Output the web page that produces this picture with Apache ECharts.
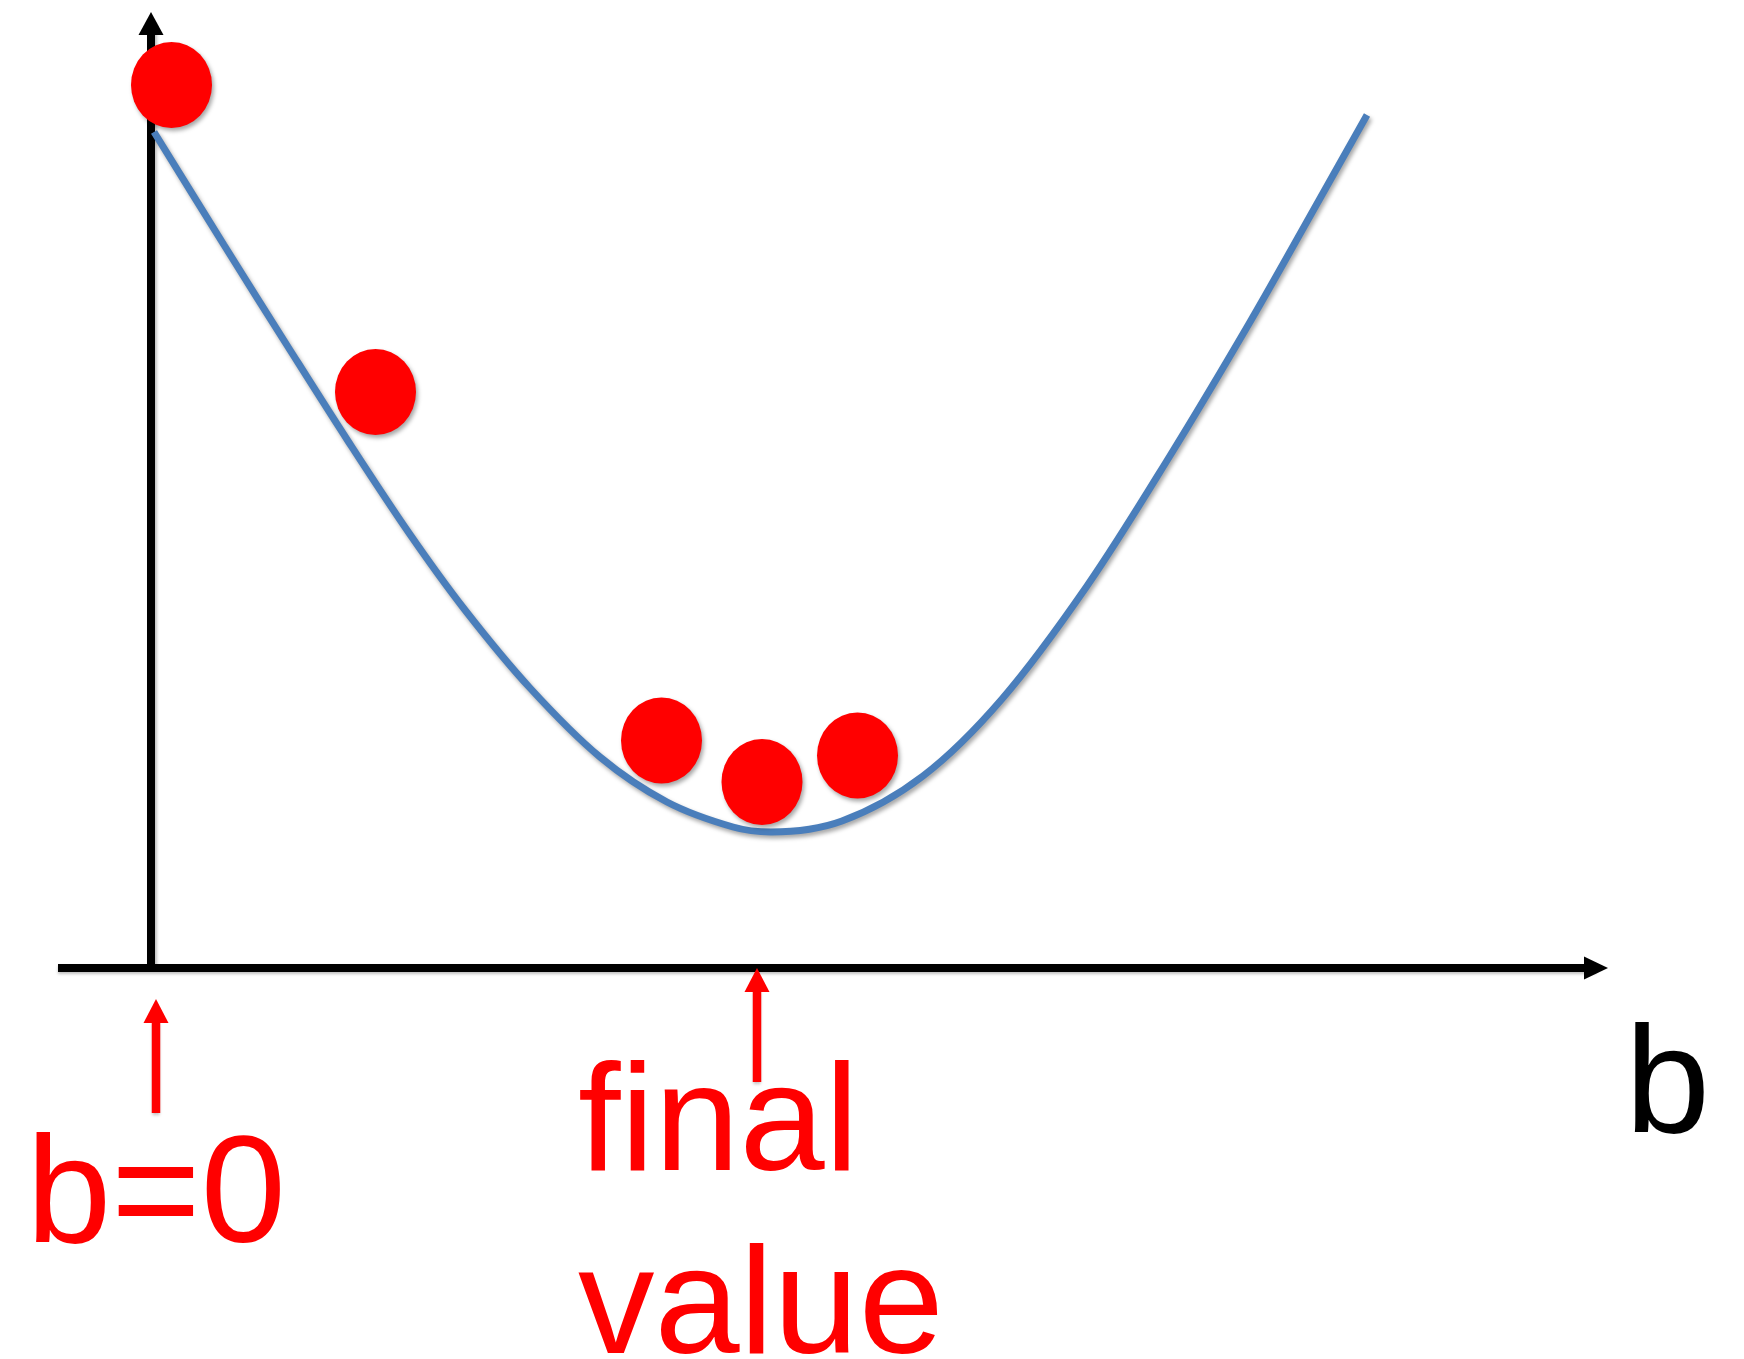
<!DOCTYPE html>
<html>
<head>
<meta charset="utf-8">
<script src="https://cdn.jsdelivr.net/npm/echarts@6/dist/echarts.min.js"></script>
<style>
html, body { margin: 0; padding: 0; background: #ffffff; }
#main { width: 1744px; height: 1359px; }
</style>
</head>
<body>
<div id="main"></div>
<script>
// ---- data (b on the horizontal axis, cost on the vertical axis) ----
const curveB    = [0.3, 7.3, 13.9, 19.7, 25.8, 31.4, 37.9, 44.9, 51.6, 58.2, 62.0, 69.1, 77.2, 85.1, 93.6, 101.7, 109.9, 116.7, 121.6];
const curveCost = [83.6, 72.3, 61.8, 52.7, 43.5, 35.8, 28.0, 21.1, 16.6, 14.1, 13.6, 14.7, 19.2, 26.9, 38.2, 50.9, 64.6, 76.6, 85.3];

const stepB    = [2.05, 22.45, 51.05, 61.1, 70.65];
const stepCost = [88.3, 57.6, 22.75, 18.6, 21.25];

const markerB      = [0.5, 60.6];
const markerTail   = [-14.5, -11.4];
const markerTip    = [-3.1, 0];
const markerLabels = ['b=0', 'final\nvalue'];

const xAxisName = 'b';

// ---- layout / style constants ----
const FONT = '"Liberation Sans", Arial, Helvetica, sans-serif';
const RED = '#ff0000';
const BLUE = '#4a7ebb';
const labelLayout = [
  { dx: 0,    dy: -4.5,  align: 'center' },
  { dx: -179, dy: -45.5, align: 'left' }
];

const chart = echarts.init(document.getElementById('main'), null, { renderer: 'canvas' });

const curveData = curveB.map((b, i) => [b, curveCost[i]]);
const stepData = stepB.map((b, i) => [b, stepCost[i]]);
const markerData = markerB.map((b, i) => [b, markerTail[i], markerTip[i]]);

const shadow = { shadowColor: 'rgba(0,0,0,0.35)', shadowBlur: 4, shadowOffsetX: 2, shadowOffsetY: 3 };

chart.setOption({
  animation: false,
  backgroundColor: '#ffffff',
  grid: { left: 58, right: 148, top: 23.5, bottom: 391, containLabel: false },
  xAxis: {
    type: 'value',
    min: -9.3,
    max: 144.5,
    name: xAxisName,
    nameLocation: 'end',
    nameGap: 29,
    nameTextStyle: {
      color: '#000000',
      fontSize: 153,
      fontFamily: FONT,
      align: 'left',
      verticalAlign: 'top',
      lineHeight: 153,
      padding: [45, 0, 0, 0]
    },
    axisLine: {
      show: true,
      onZero: true,
      symbol: ['none', 'triangle'],
      symbolSize: [23, 24],
      lineStyle: { color: '#000000', width: 8, cap: 'butt', shadowColor: 'rgba(0,0,0,0.25)', shadowBlur: 3, shadowOffsetY: 2 }
    },
    axisTick: { show: false },
    axisLabel: { show: false },
    splitLine: { show: false }
  },
  yAxis: {
    type: 'value',
    min: 0,
    max: 94.45,
    axisLine: {
      show: true,
      onZero: true,
      symbol: ['none', 'triangle'],
      symbolSize: [25, 23],
      lineStyle: { color: '#000000', width: 8, cap: 'butt', shadowColor: 'rgba(0,0,0,0.25)', shadowBlur: 3, shadowOffsetX: 2 }
    },
    axisTick: { show: false },
    axisLabel: { show: false },
    splitLine: { show: false }
  },
  series: [
    {
      type: 'line',
      data: curveData,
      smooth: 0.33,
      showSymbol: false,
      symbol: 'none',
      clip: false,
      lineStyle: Object.assign({ color: BLUE, width: 7, cap: 'butt' }, shadow),
      z: 3
    },
    {
      type: 'scatter',
      data: stepData,
      symbol: 'circle',
      symbolSize: [81, 86],
      clip: false,
      itemStyle: Object.assign({ color: RED, opacity: 1 }, shadow),
      z: 4
    },
    {
      type: 'custom',
      data: markerData,
      clip: false,
      z: 5,
      renderItem: function (params, api) {
        const b = api.value(0);
        const tail = api.coord([b, api.value(1)]);
        const tip = api.coord([b, api.value(2)]);
        const headLen = 24, headW = 25, shaftW = 8.5;
        const lay = labelLayout[params.dataIndex];
        return {
          type: 'group',
          children: [
            {
              type: 'rect',
              shape: { x: tip[0] - shaftW / 2, y: tip[1] + headLen - 1, width: shaftW, height: tail[1] - tip[1] - headLen + 1 },
              style: { fill: RED, shadowColor: 'rgba(0,0,0,0.25)', shadowBlur: 3, shadowOffsetY: 2 }
            },
            {
              type: 'polygon',
              shape: { points: [[tip[0], tip[1]], [tip[0] - headW / 2, tip[1] + headLen], [tip[0] + headW / 2, tip[1] + headLen]] },
              style: { fill: RED }
            },
            {
              type: 'text',
              x: tail[0] + lay.dx,
              y: tail[1] + lay.dy,
              style: {
                text: markerLabels[params.dataIndex],
                fill: RED,
                fontSize: 153,
                fontFamily: FONT,
                lineHeight: 183,
                align: lay.align,
                verticalAlign: 'top'
              }
            }
          ]
        };
      }
    }
  ]
});
</script>
</body>
</html>
